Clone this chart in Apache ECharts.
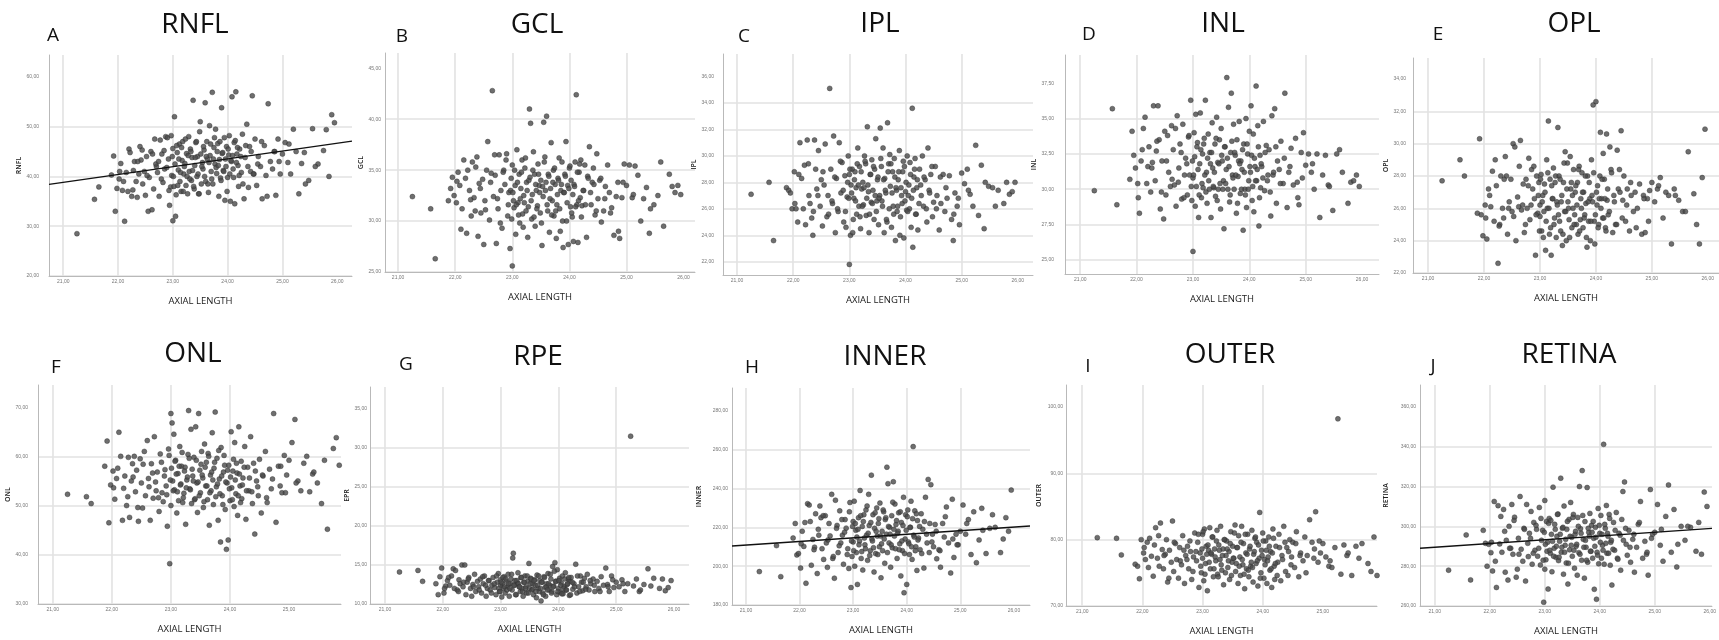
<!DOCTYPE html>
<html>
<head>
<meta charset="utf-8">
<title>Retinal layer thickness vs axial length</title>
<script src="https://cdn.jsdelivr.net/npm/echarts@6/dist/echarts.min.js"></script>
<style>
html, body { margin: 0; padding: 0; background: #fff; }
#chart { width: 1719px; height: 640px; }
</style>
</head>
<body>
<div id="chart"></div>
<script>
// axial length (mm) - same subjects in all ten panels
const axialLength = [
  21.25, 21.57, 21.65, 21.88, 21.92, 21.95, 21.98, 22.02, 22.05, 22.08,
  22.12, 22.15, 22.18, 22.20, 22.22, 22.25, 22.28, 22.30, 22.33, 22.35,
  22.38, 22.40, 22.42, 22.45, 22.48, 22.50, 22.52, 22.55, 22.57, 22.60,
  22.62, 22.65, 22.67, 22.70, 22.72, 22.75, 22.77, 22.80, 22.82, 22.85,
  22.87, 22.90, 22.92, 22.94, 22.96, 22.98, 23.00, 23.00, 23.02, 23.03,
  23.05, 23.06, 23.08, 23.10, 23.12, 23.13, 23.15, 23.17, 23.18, 23.20,
  23.22, 23.24, 23.25, 23.27, 23.29, 23.30, 23.32, 23.34, 23.35, 23.37,
  23.39, 23.40, 23.42, 23.44, 23.45, 23.47, 23.49, 23.50, 23.52, 23.54,
  23.55, 23.57, 23.59, 23.60, 23.62, 23.63, 23.65, 23.67, 23.68, 23.70,
  23.72, 23.73, 23.75, 23.77, 23.78, 23.80, 23.82, 23.84, 23.85, 23.87,
  23.89, 23.90, 23.92, 23.94, 23.95, 23.97, 23.98, 24.00, 24.02, 24.03,
  24.05, 24.07, 24.08, 24.10, 24.12, 24.13, 24.15, 24.17, 24.19, 24.20,
  24.22, 24.25, 24.27, 24.30, 24.32, 24.35, 24.38, 24.40, 24.42, 24.45,
  24.48, 24.50, 24.53, 24.56, 24.60, 24.63, 24.67, 24.70, 24.74, 24.78,
  24.82, 24.85, 24.88, 24.92, 24.96, 25.00, 25.05, 25.10, 25.15, 25.20,
  25.25, 25.30, 25.35, 25.40, 25.48, 25.55, 25.65, 25.75, 25.80, 25.85,
  25.90, 25.95, 22.03, 22.10, 22.27, 22.36, 22.44, 22.53, 22.63, 22.69,
  22.74, 22.79, 22.84, 22.89, 22.93, 22.97, 22.99, 23.01, 23.04, 23.07,
  23.09, 23.11, 23.14, 23.16, 23.19, 23.21, 23.23, 23.26, 23.28, 23.31,
  23.33, 23.36, 23.38, 23.41, 23.43, 23.46, 23.48, 23.51, 23.53, 23.56,
  23.58, 23.61, 23.64, 23.66, 23.69, 23.71, 23.74, 23.76, 23.79, 23.81,
  23.83, 23.86, 23.88, 23.91, 23.93, 23.96, 23.99, 24.01, 24.04, 24.06,
  24.09, 24.11, 24.14, 24.16, 24.18, 24.21, 24.24, 24.28, 24.33, 24.37,
  24.43, 24.47, 24.55, 24.62, 24.72, 24.86, 24.94, 25.12, 25.42, 25.60
];

const rnfl = [
  28.5, 35.4, 37.9, 40.3, 44.1, 33.0, 37.6, 39.5, 42.6, 37.2,
  31.0, 40.8, 37.0, 45.5, 44.8, 36.0, 41.2, 43.0, 39.0, 35.8,
  40.5, 46.0, 43.3, 38.5, 41.0, 36.2, 44.0, 33.0, 39.8, 45.0,
  33.3, 37.5, 47.5, 42.0, 40.8, 36.0, 47.3, 44.5, 38.8, 41.5,
  48.0, 47.8, 43.5, 34.2, 37.9, 40.2, 31.1, 45.6, 38.0, 52.0,
  32.0, 36.3, 44.8, 41.3, 46.5, 39.0, 37.0, 43.2, 47.0, 40.5,
  42.6, 38.2, 44.6, 36.5, 48.0, 41.0, 45.5, 39.2, 43.8, 55.3,
  37.5, 42.2, 46.8, 40.0, 44.0, 36.5, 49.0, 51.0, 38.5, 42.8,
  41.5, 45.3, 54.8, 39.0, 47.0, 43.5, 36.8, 50.2, 44.2, 41.0,
  56.9, 38.5, 45.8, 42.5, 49.5, 40.6, 46.6, 36.0, 43.4, 39.7,
  53.8, 44.6, 41.2, 47.8, 35.2, 42.0, 46.0, 39.8, 44.3, 48.2,
  35.0, 43.0, 56.0, 41.5, 46.8, 34.5, 57.0, 44.5, 42.2, 38.0,
  45.5, 40.8, 48.5, 35.5, 43.8, 50.5, 37.8, 46.0, 41.0, 56.2,
  40.5, 47.5, 38.2, 44.0, 42.0, 35.5, 46.2, 40.2, 54.6, 43.0,
  41.5, 45.0, 36.2, 47.5, 40.5, 44.5, 46.8, 42.8, 40.5, 49.5,
  45.0, 36.5, 42.6, 44.8, 39.2, 49.6, 42.5, 45.2, 49.4, 40.0,
  52.4, 50.8, 41.0, 39.0, 37.3, 43.0, 45.3, 40.2, 44.5, 42.5,
  43.0, 39.5, 45.2, 41.8, 37.2, 48.2, 44.0, 40.0, 42.5, 46.2,
  38.2, 43.5, 40.8, 45.8, 37.0, 42.0, 47.5, 40.0, 44.2, 39.5,
  45.0, 41.2, 38.0, 43.8, 47.0, 40.5, 36.5, 44.5, 42.0, 46.0,
  40.0, 44.0, 38.5, 42.8, 46.5, 39.5, 43.5, 47.8, 41.8, 45.0,
  42.2, 47.0, 39.2, 44.8, 41.0, 43.5, 37.0, 45.5, 40.5, 43.2,
  44.2, 39.8, 47.2, 42.8, 45.8, 40.2, 44.0, 38.5, 46.2, 42.0,
  45.0, 40.5, 42.5, 47.0, 36.0, 45.0, 43.0, 46.5, 38.5, 42.0
];

const gcl = [
  32.4, 31.2, 26.3, 32.0, 33.2, 34.3, 32.5, 31.8, 34.8, 33.5,
  31.2, 36.0, 34.2, 28.8, 35.0, 33.0, 30.5, 35.8, 32.3, 31.0,
  36.3, 28.5, 33.7, 30.8, 34.1, 27.7, 32.0, 35.0, 37.8, 30.1,
  33.8, 42.8, 32.4, 34.5, 27.8, 31.2, 36.5, 33.0, 29.3, 35.0,
  33.6, 36.6, 30.5, 32.8, 27.3, 34.2, 25.6, 35.5, 32.0, 31.3,
  33.5, 28.7, 37.0, 31.8, 34.6, 29.8, 33.2, 36.0, 30.7, 32.5,
  35.2, 31.0, 33.8, 28.4, 34.0, 41.0, 39.6, 30.2, 32.6, 36.8,
  34.6, 29.5, 33.0, 31.5, 35.6, 33.5, 30.8, 34.0, 27.6, 32.4,
  39.7, 36.3, 33.8, 40.3, 31.0, 34.6, 28.9, 33.2, 37.7, 32.0,
  35.0, 30.5, 33.6, 28.3, 31.6, 34.2, 36.2, 29.0, 33.0, 35.8,
  27.4, 32.8, 34.6, 37.8, 30.0, 33.5, 27.7, 35.2, 31.4, 34.0,
  30.4, 28.0, 33.6, 35.8, 42.4, 31.6, 27.9, 34.8, 32.3, 36.0,
  31.5, 33.0, 35.5, 28.4, 34.4, 37.3, 31.6, 33.8, 35.2, 30.6,
  36.6, 32.2, 34.0, 29.9, 31.0, 33.4, 35.5, 32.8, 31.3, 28.6,
  32.4, 33.8, 28.3, 32.3, 35.6, 33.5, 35.5, 32.3, 35.4, 34.5,
  30.0, 32.2, 33.3, 28.8, 31.6, 32.5, 29.5, 34.6, 33.4, 32.8,
  33.5, 32.6, 33.9, 29.2, 32.1, 35.3, 33.2, 31.1, 34.7, 36.5,
  32.2, 29.8, 34.8, 36.0, 31.6, 33.0, 30.2, 32.8, 35.0, 31.6,
  33.8, 30.6, 32.2, 34.8, 29.4, 31.8, 36.2, 33.0, 31.4, 34.3,
  32.0, 35.0, 30.4, 33.6, 31.2, 34.6, 32.8, 29.8, 33.4, 35.8,
  33.0, 31.6, 34.4, 32.2, 30.6, 33.8, 35.2, 31.0, 32.6, 34.0,
  31.2, 33.6, 30.0, 32.8, 34.4, 31.8, 33.2, 35.4, 30.8, 32.6,
  33.4, 31.4, 34.8, 32.0, 35.6, 30.4, 33.0, 31.6, 34.2, 32.8,
  33.6, 31.0, 34.2, 32.2, 30.8, 29.0, 33.8, 32.6, 31.2, 35.8
];

const ipl = [
  27.1, 28.0, 23.6, 27.6, 27.4, 27.2, 26.0, 28.8, 26.0, 25.0,
  31.0, 28.3, 26.0, 29.3, 24.8, 31.2, 27.0, 26.4, 25.3, 24.0,
  31.2, 29.0, 27.5, 30.4, 26.2, 28.2, 24.7, 27.8, 30.9, 25.4,
  27.0, 35.1, 29.0, 26.4, 31.5, 24.2, 28.3, 25.8, 31.0, 27.2,
  29.5, 25.0, 28.5, 24.6, 26.9, 30.0, 21.8, 28.6, 24.0, 27.8,
  29.0, 24.2, 26.8, 28.8, 27.6, 25.6, 30.6, 26.2, 29.2, 24.5,
  27.5, 28.0, 26.3, 30.0, 29.4, 25.5, 32.2, 27.3, 24.2, 28.6,
  26.5, 29.7, 27.4, 25.2, 29.0, 31.3, 26.6, 28.2, 24.8, 27.0,
  32.1, 29.2, 26.2, 30.6, 24.2, 28.3, 27.2, 25.0, 32.5, 29.4,
  30.1, 27.7, 24.6, 28.8, 26.2, 29.8, 23.6, 27.4, 25.8, 28.2,
  30.4, 24.0, 27.6, 26.4, 28.8, 23.8, 29.2, 27.3, 25.9, 30.0,
  27.0, 26.0, 29.5, 24.6, 33.6, 23.1, 28.4, 29.8, 25.6, 27.6,
  24.4, 29.0, 27.8, 30.0, 26.2, 28.2, 25.0, 30.6, 27.4, 28.6,
  25.4, 26.5, 29.2, 27.0, 24.4, 26.4, 28.6, 25.8, 26.8, 28.5,
  25.2, 23.6, 27.2, 26.2, 24.8, 28.7, 27.9, 29.0, 27.1, 26.2,
  30.8, 25.5, 29.3, 24.5, 27.7, 27.6, 27.4, 26.4, 28.0, 27.1,
  27.3, 28.0, 26.4, 28.6, 29.4, 25.8, 27.0, 28.8, 25.6, 26.6,
  28.4, 26.0, 29.6, 27.4, 25.8, 28.0, 26.8, 29.0, 27.2, 25.2,
  28.2, 26.6, 29.4, 27.8, 25.4, 28.8, 26.2, 27.6, 29.6, 26.8,
  27.8, 25.6, 28.6, 26.4, 29.2, 27.0, 25.8, 28.4, 26.8, 29.8,
  26.6, 28.2, 27.4, 25.2, 28.8, 26.0, 29.4, 27.2, 25.6, 28.4,
  27.6, 26.2, 28.8, 25.4, 27.0, 29.6, 26.6, 28.0, 25.8, 27.8,
  28.6, 26.8, 27.4, 29.0, 25.6, 28.2, 26.4, 27.0, 28.4, 26.0,
  27.2, 29.2, 26.0, 28.4, 27.6, 25.6, 26.8, 27.4, 28.0, 26.2
];

const inl = [
  29.9, 35.7, 28.9, 30.7, 34.1, 32.4, 31.5, 30.4, 28.3, 32.0,
  34.3, 35.1, 30.4, 31.6, 33.0, 29.8, 31.9, 35.9, 30.6, 32.7,
  35.9, 33.5, 28.6, 32.0, 27.9, 34.1, 29.6, 33.8, 31.2, 30.2,
  34.5, 32.8, 30.3, 28.8, 35.2, 31.5, 33.2, 29.3, 34.6, 31.0,
  32.2, 29.6, 33.7, 31.0, 36.3, 29.2, 25.6, 30.8, 34.0, 32.3,
  35.3, 30.2, 33.3, 28.0, 31.8, 35.4, 29.4, 32.5, 30.1, 33.6,
  36.3, 31.2, 29.0, 33.9, 30.0, 32.6, 28.0, 34.7, 31.5, 30.1,
  33.2, 29.5, 35.1, 31.9, 30.0, 33.5, 28.6, 34.3, 32.0, 30.6,
  27.2, 33.0, 31.4, 37.9, 30.0, 35.8, 29.1, 32.6, 36.8, 31.0,
  34.6, 30.0, 32.4, 28.3, 33.5, 30.9, 34.8, 29.7, 32.0, 31.4,
  27.1, 33.2, 30.0, 35.0, 28.7, 32.5, 30.0, 34.1, 31.2, 35.9,
  29.2, 33.9, 28.4, 31.6, 37.3, 30.6, 34.5, 27.4, 32.4, 30.1,
  31.6, 34.8, 29.9, 33.1, 30.6, 32.8, 28.1, 35.2, 31.0, 35.7,
  29.0, 32.0, 31.4, 33.4, 30.4, 36.8, 28.7, 31.2, 32.9, 30.3,
  33.6, 30.5, 28.9, 32.6, 34.0, 31.7, 32.5, 31.2, 30.0, 32.5,
  28.0, 31.0, 32.4, 30.3, 28.5, 32.5, 31.2, 29.0, 30.5, 30.6,
  31.0, 30.2, 29.4, 32.8, 31.5, 33.4, 29.8, 32.0, 30.7, 34.3,
  30.5, 32.6, 29.4, 31.8, 33.8, 30.2, 32.0, 31.0, 28.8, 33.0,
  31.4, 29.6, 32.8, 30.4, 33.2, 31.0, 29.8, 32.2, 30.6, 31.8,
  32.6, 30.2, 31.2, 33.6, 29.2, 31.8, 30.4, 32.4, 30.0, 33.0,
  30.4, 32.2, 31.6, 29.6, 33.4, 30.8, 32.6, 31.0, 29.0, 32.0,
  31.8, 30.0, 32.8, 31.2, 29.6, 33.2, 30.6, 31.6, 32.4, 30.2,
  32.2, 30.6, 31.4, 33.0, 29.4, 31.8, 30.8, 32.6, 31.0, 29.8,
  31.2, 33.0, 30.4, 32.2, 31.6, 29.4, 30.8, 31.8, 30.2, 32.8
];

const opl = [
  27.7, 29.0, 28.0, 25.7, 30.3, 25.6, 24.3, 26.2, 24.1, 27.2,
  26.1, 28.3, 25.2, 29.0, 27.4, 22.6, 25.0, 28.0, 26.0, 25.4,
  29.2, 28.0, 24.4, 26.4, 27.8, 25.8, 30.0, 29.8, 24.0, 26.7,
  26.1, 30.2, 25.9, 27.5, 24.5, 27.8, 26.0, 29.1, 25.3, 28.4,
  27.2, 26.6, 23.1, 28.0, 25.7, 27.6, 26.2, 25.5, 28.1, 24.6,
  26.8, 24.2, 27.5, 23.4, 29.0, 26.0, 31.4, 24.4, 27.8, 23.1,
  26.6, 28.5, 25.0, 27.6, 24.2, 26.4, 31.0, 28.0, 25.2, 24.6,
  26.8, 23.7, 27.6, 25.8, 29.5, 24.0, 28.8, 26.4, 25.3, 29.2,
  27.2, 24.8, 26.0, 28.4, 25.6, 27.0, 25.0, 27.6, 24.4, 28.6,
  25.3, 26.6, 28.2, 24.8, 27.0, 25.6, 26.3, 23.6, 28.0, 25.2,
  26.6, 24.0, 29.0, 26.4, 32.4, 25.2, 23.8, 32.6, 26.2, 27.4,
  25.0, 28.0, 30.7, 26.6, 25.4, 29.4, 27.8, 24.8, 30.6, 26.5,
  25.6, 29.8, 28.4, 24.5, 26.8, 25.0, 29.6, 27.2, 28.4, 30.8,
  26.5, 28.0, 25.2, 27.2, 24.6, 26.8, 25.8, 27.0, 26.0, 27.5,
  24.4, 26.8, 24.5, 26.6, 27.1, 27.6, 26.4, 27.2, 27.9, 25.4,
  27.0, 26.8, 23.8, 27.2, 26.5, 25.8, 29.5, 26.9, 25.0, 23.8,
  27.9, 30.9, 25.4, 26.8, 24.9, 27.8, 26.0, 25.5, 28.6, 26.2,
  25.0, 27.4, 26.2, 28.6, 25.6, 26.8, 24.6, 27.8, 26.4, 25.8,
  27.0, 25.2, 28.2, 26.0, 24.8, 27.4, 26.6, 25.4, 28.0, 26.2,
  25.6, 27.8, 26.4, 24.4, 28.8, 25.8, 27.2, 26.0, 24.2, 27.6,
  26.8, 25.0, 27.4, 26.2, 28.4, 24.6, 26.0, 27.0, 25.4, 28.0,
  24.2, 26.4, 27.6, 25.2, 26.8, 28.2, 25.6, 27.0, 24.8, 26.6,
  26.0, 27.8, 25.4, 26.6, 24.6, 27.2, 25.8, 28.2, 26.4, 25.0,
  27.0, 25.4, 26.2, 27.6, 24.8, 26.6, 25.2, 27.4, 26.8, 25.8
];

const onl = [
  52.3, 51.8, 50.4, 58.0, 63.1, 46.5, 54.2, 57.0, 51.3, 55.5,
  64.9, 60.0, 47.0, 53.5, 56.0, 50.0, 59.8, 47.6, 55.0, 58.5,
  60.0, 52.8, 57.2, 46.8, 59.5, 54.6, 49.5, 61.0, 52.0, 63.2,
  55.5, 47.0, 58.5, 51.5, 64.0, 53.0, 56.8, 48.8, 60.5, 52.6,
  50.8, 57.3, 54.0, 45.8, 61.5, 38.2, 68.7, 50.0, 66.8, 55.0,
  64.5, 53.2, 59.2, 48.5, 56.5, 51.0, 62.0, 54.4, 58.0, 50.6,
  52.5, 57.8, 46.2, 55.2, 60.4, 69.3, 53.4, 65.5, 50.4, 56.0,
  59.8, 51.2, 66.0, 54.6, 48.6, 68.7, 57.2, 52.6, 61.0, 55.6,
  49.6, 62.5, 54.0, 58.8, 51.2, 60.6, 46.0, 56.2, 53.0, 64.8,
  50.2, 57.6, 69.0, 53.8, 59.6, 47.0, 55.4, 42.6, 61.8, 52.0,
  56.8, 60.2, 49.2, 41.1, 54.6, 43.0, 58.2, 51.0, 65.0, 53.6,
  57.0, 49.8, 62.8, 52.4, 56.6, 48.0, 66.0, 54.0, 59.0, 51.4,
  55.6, 62.0, 47.2, 57.8, 53.0, 64.0, 50.4, 58.6, 44.2, 55.0,
  52.0, 59.4, 48.5, 56.0, 61.0, 50.6, 57.4, 53.4, 68.7, 46.6,
  58.0, 54.0, 52.6, 60.2, 56.2, 59.2, 62.8, 67.5, 55.0, 53.0,
  58.6, 60.0, 52.8, 56.4, 54.6, 50.4, 45.2, 61.6, 63.8, 58.2,
  60.8, 64.0, 53.6, 57.6, 51.8, 55.8, 49.6, 58.4, 53.8, 56.6,
  54.8, 51.6, 58.8, 56.0, 52.2, 60.2, 55.2, 57.6, 53.0, 59.0,
  56.4, 52.8, 58.0, 54.2, 60.8, 51.6, 57.0, 53.6, 55.8, 59.6,
  53.2, 57.4, 55.0, 51.4, 59.2, 54.8, 52.0, 58.4, 56.2, 50.8,
  57.8, 54.0, 60.0, 52.6, 56.8, 55.2, 58.8, 51.8, 54.4, 61.2,
  52.4, 56.0, 50.2, 58.2, 54.8, 57.2, 53.4, 55.8, 51.2, 59.4,
  55.2, 58.6, 52.0, 56.4, 50.6, 54.2, 57.8, 53.0, 55.6, 52.8,
  57.0, 53.8, 56.2, 51.6, 55.4, 58.0, 52.6, 54.6, 56.8, 59.2
];

const rpe = [
  14.1, 14.3, 12.9, 12.6, 11.2, 13.5, 14.6, 11.4, 12.3, 13.0,
  12.4, 13.6, 14.5, 12.0, 14.3, 11.8, 13.1, 12.6, 15.0, 12.2,
  15.0, 11.2, 12.8, 13.4, 12.0, 11.0, 12.5, 13.8, 11.6, 12.9,
  12.2, 13.2, 11.4, 12.6, 13.6, 11.0, 12.0, 13.0, 11.8, 12.4,
  13.4, 12.1, 11.2, 12.8, 13.9, 11.6, 12.4, 13.1, 10.9, 12.6,
  12.0, 13.5, 11.4, 12.9, 12.2, 13.8, 11.0, 12.6, 13.2, 11.8,
  16.5, 12.4, 13.0, 11.2, 12.7, 14.0, 12.2, 11.6, 13.4, 12.0,
  11.0, 12.8, 13.6, 12.2, 11.4, 12.9, 15.2, 12.0, 13.3, 11.8,
  12.6, 11.2, 13.1, 12.4, 10.8, 13.7, 12.0, 11.6, 13.0, 10.4,
  12.8, 11.4, 13.5, 12.1, 11.0, 12.6, 13.9, 11.8, 12.4, 13.2,
  11.6, 14.8, 12.3, 15.3, 12.9, 11.2, 14.4, 12.0, 13.3, 11.5,
  12.7, 13.6, 11.3, 12.2, 14.0, 11.8, 12.5, 13.2, 11.1, 12.9,
  13.4, 11.9, 12.6, 15.1, 11.4, 12.2, 13.6, 12.8, 11.7, 13.3,
  12.2, 13.8, 11.8, 12.6, 13.2, 11.6, 12.9, 12.0, 13.5, 12.4,
  14.6, 12.5, 11.6, 13.6, 12.1, 12.8, 12.2, 13.1, 11.6, 12.6,
  31.5, 12.3, 13.2, 11.6, 12.5, 14.5, 13.3, 12.0, 13.2, 11.7,
  12.1, 13.0, 12.0, 13.4, 11.6, 12.8, 13.2, 12.2, 11.8, 13.5,
  12.4, 13.0, 11.4, 12.6, 13.6, 12.0, 11.6, 12.8, 13.4, 12.2,
  13.2, 11.8, 12.6, 12.0, 13.8, 15.9, 12.4, 11.2, 13.0, 12.6,
  12.2, 13.4, 11.6, 12.8, 12.0, 13.6, 11.4, 12.6, 13.2, 11.9,
  13.0, 11.6, 12.4, 13.6, 12.0, 12.8, 11.2, 13.4, 12.2, 11.8,
  12.6, 13.8, 11.4, 12.2, 14.2, 12.9, 11.6, 13.0, 12.4, 11.3,
  12.0, 13.2, 11.8, 12.6, 13.4, 11.2, 12.8, 12.2, 13.6, 11.6,
  12.8, 11.9, 13.0, 12.4, 11.6, 12.2, 13.1, 12.6, 11.8, 12.3
];

const inner = [
  197.2, 210.6, 194.6, 214.5, 222.0, 205.8, 206.5, 199.0, 218.0, 210.2,
  191.2, 232.2, 231.5, 223.0, 200.5, 213.8, 209.8, 227.0, 196.2, 219.0,
  231.0, 225.0, 209.0, 203.5, 226.0, 212.0, 199.4, 222.0, 215.6, 237.0,
  204.0, 193.8, 234.0, 221.0, 207.0, 228.5, 212.0, 216.0, 201.0, 224.0,
  219.6, 209.0, 198.8, 232.8, 189.0, 205.0, 223.0, 212.5, 233.5, 200.0,
  218.5, 207.0, 190.6, 225.0, 213.0, 239.0, 204.0, 220.5, 198.0, 226.5,
  211.0, 229.0, 216.0, 203.0, 237.0, 221.0, 208.0, 246.9, 214.0, 226.5,
  197.0, 219.5, 206.5, 230.0, 215.5, 222.0, 210.0, 232.5, 194.0, 218.0,
  208.0, 228.0, 201.5, 224.0, 216.5, 251.0, 242.5, 212.0, 220.0, 199.5,
  226.0, 209.5, 243.5, 215.5, 232.0, 221.5, 204.0, 218.0, 227.5, 211.5,
  195.0, 222.5, 208.0, 235.5, 186.3, 214.0, 226.5, 190.6, 229.0, 212.5,
  206.0, 220.0, 233.5, 203.5, 261.6, 216.0, 228.5, 210.0, 197.8, 223.5,
  214.5, 208.5, 227.0, 219.0, 199.0, 235.5, 212.0, 244.7, 207.0, 242.0,
  216.5, 210.0, 221.5, 203.8, 208.5, 199.5, 222.0, 215.0, 230.5, 212.0,
  196.5, 234.5, 204.5, 216.5, 211.0, 218.0, 231.5, 216.5, 224.0, 206.0,
  228.0, 201.8, 213.5, 229.8, 206.5, 219.5, 220.0, 207.0, 214.0, 225.0,
  218.0, 239.2, 211.5, 222.5, 208.5, 216.0, 226.0, 213.5, 205.0, 219.5,
  210.5, 224.0, 217.5, 206.0, 228.0, 213.0, 220.5, 208.0, 222.0, 215.0,
  219.0, 211.0, 226.0, 207.5, 223.0, 214.5, 209.0, 231.0, 217.0, 205.5,
  222.5, 213.0, 209.5, 227.5, 218.0, 206.0, 224.5, 215.5, 211.5, 229.0,
  214.0, 225.0, 207.0, 220.5, 216.5, 211.0, 233.0, 219.0, 209.0, 223.5,
  217.0, 208.5, 228.0, 213.0, 221.0, 206.5, 218.5, 225.5, 211.5, 220.0,
  210.0, 224.5, 215.0, 208.0, 227.0, 213.5, 220.5, 206.5, 223.0, 216.5,
  222.0, 212.5, 218.0, 208.0, 225.5, 214.0, 211.0, 222.0, 218.5, 226.5
];

const outer = [
  80.3, 80.2, 77.7, 76.3, 76.0, 74.1, 80.0, 78.0, 77.0, 79.6,
  80.2, 77.5, 74.5, 79.2, 81.8, 77.2, 76.0, 82.5, 78.5, 75.6,
  77.8, 80.0, 73.6, 78.4, 76.6, 82.8, 75.2, 79.4, 77.0, 74.2,
  78.8, 76.2, 80.6, 73.4, 77.6, 79.0, 75.6, 78.2, 74.0, 77.4,
  81.0, 76.8, 79.6, 72.8, 78.0, 75.0, 80.8, 77.2, 73.8, 81.6,
  76.4, 79.0, 72.3, 78.4, 81.8, 75.6, 77.8, 80.4, 74.4, 78.6,
  76.8, 81.4, 74.8, 79.2, 77.0, 82.0, 75.4, 78.6, 73.2, 80.0,
  77.6, 79.8, 75.8, 78.2, 74.0, 81.2, 76.6, 79.0, 77.2, 82.2,
  75.2, 78.8, 73.4, 80.6, 77.4, 74.6, 82.0, 76.2, 79.4, 72.6,
  78.0, 75.6, 80.8, 74.4, 78.6, 76.0, 81.4, 73.6, 77.8, 80.2,
  76.4, 79.6, 73.0, 77.2, 84.1, 75.0, 78.4, 81.0, 74.2, 77.0,
  79.8, 73.4, 76.8, 80.4, 75.4, 78.2, 72.8, 81.6, 76.0, 74.0,
  79.0, 76.6, 80.8, 73.8, 77.6, 82.0, 75.2, 78.8, 74.6, 80.0,
  77.4, 79.6, 75.8, 81.2, 74.4, 78.0, 76.8, 80.4, 77.6, 83.0,
  79.6, 77.2, 84.2, 76.6, 78.0, 79.4, 77.4, 76.0, 75.8, 78.8,
  98.2, 74.8, 79.2, 77.6, 74.6, 79.0, 79.4, 76.4, 75.2, 80.4,
  74.6, 76.8, 78.8, 75.8, 80.6, 77.6, 74.2, 79.6, 76.8, 78.4,
  77.0, 79.8, 75.2, 78.2, 80.8, 76.0, 78.6, 81.2, 74.8, 77.8,
  79.2, 76.6, 78.0, 80.4, 75.6, 77.4, 79.8, 74.4, 78.4, 76.2,
  77.6, 80.0, 75.0, 78.6, 76.8, 79.4, 74.6, 77.2, 81.0, 76.4,
  78.8, 76.0, 79.6, 77.0, 74.8, 80.8, 77.8, 75.4, 79.0, 76.6,
  75.8, 78.2, 80.4, 76.8, 79.2, 74.2, 77.6, 79.8, 76.2, 78.4,
  77.4, 79.0, 75.6, 78.0, 80.2, 76.4, 74.6, 78.8, 77.0, 79.6,
  78.2, 76.2, 79.4, 77.6, 75.0, 78.6, 79.8, 76.8, 78.0, 77.2
];

const retina = [
  278.0, 295.7, 273.1, 298.0, 291.5, 280.0, 291.0, 286.8, 277.6, 312.5,
  269.3, 310.4, 291.2, 305.0, 287.0, 308.5, 277.0, 293.0, 273.0, 300.0,
  289.0, 311.0, 286.0, 304.6, 274.5, 278.5, 294.0, 315.0, 288.5, 282.5,
  299.0, 272.5, 311.0, 284.8, 296.5, 307.5, 281.0, 302.0, 288.0, 298.5,
  285.0, 309.5, 280.6, 293.0, 298.0, 261.9, 278.5, 313.0, 283.2, 302.5,
  292.0, 268.5, 304.0, 286.5, 296.0, 277.2, 319.7, 289.0, 301.0, 284.5,
  295.0, 306.2, 282.8, 292.5, 324.2, 287.0, 299.0, 276.0, 310.2, 290.5,
  281.6, 298.5, 271.0, 303.5, 288.2, 312.0, 294.5, 285.0, 306.0, 279.0,
  296.0, 290.0, 275.5, 304.5, 286.8, 320.0, 298.8, 283.0, 328.0, 293.5,
  274.0, 302.4, 289.5, 319.5, 282.0, 297.0, 306.5, 287.5, 300.5, 284.0,
  294.0, 268.4, 299.5, 263.4, 287.0, 309.0, 281.2, 296.5, 305.5, 284.0,
  290.5, 341.2, 281.0, 299.0, 310.5, 286.5, 295.0, 306.0, 280.5, 292.0,
  270.5, 302.0, 288.0, 307.0, 284.0, 296.5, 278.0, 303.5, 317.5, 322.3,
  291.0, 285.5, 298.0, 282.0, 293.5, 277.0, 289.5, 301.0, 312.5, 284.0,
  292.5, 286.0, 275.5, 318.5, 296.0, 297.0, 311.0, 290.5, 282.5, 305.0,
  320.8, 287.0, 308.5, 279.6, 300.0, 293.0, 299.5, 287.5, 302.0, 286.0,
  317.2, 310.0, 292.0, 282.5, 297.5, 289.0, 303.0, 286.0, 298.5, 291.5,
  294.0, 286.5, 300.5, 289.0, 304.0, 283.0, 297.0, 291.0, 287.5, 301.5,
  288.0, 303.0, 292.5, 285.0, 298.5, 290.0, 306.0, 284.5, 296.0, 289.5,
  299.5, 287.0, 293.5, 302.5, 281.5, 295.0, 290.5, 304.5, 288.0, 297.5,
  291.0, 300.0, 286.0, 296.5, 305.5, 289.5, 293.0, 283.0, 299.0, 295.0,
  287.5, 297.0, 302.5, 290.0, 294.5, 285.5, 300.5, 292.0, 296.0, 288.0,
  301.0, 291.5, 296.5, 286.5, 304.0, 293.0, 288.5, 298.0, 283.5, 295.5,
  293.0, 299.0, 289.5, 296.0, 302.0, 287.0, 294.0, 298.5, 291.0, 300.0
];

// fitted regression lines [intercept, slope]
const rnflFit = [5.78, 1.573];
const innerFit = [171.97, 1.853];
const retinaFit = [249.97, 1.883];

// tick labels
const xTicks = [21, 22, 23, 24, 25, 26];
const rnflTicks = [20, 30, 40, 50, 60];
const gclTicks = [25, 30, 35, 40, 45];
const iplTicks = [22, 24, 26, 28, 30, 32, 34, 36];
const inlTicks = [25, 27.5, 30, 32.5, 35, 37.5];
const oplTicks = [22, 24, 26, 28, 30, 32, 34];
const onlTicks = [30, 40, 50, 60, 70];
const rpeTicks = [10, 15, 20, 25, 30, 35];
const innerTicks = [180, 200, 220, 240, 260, 280];
const outerTicks = [70, 80, 90, 100];
const retinaTicks = [260, 280, 300, 320, 340, 360];

const panels = [
  { title: 'RNFL', letter: 'A', yName: 'RNFL', values: rnfl, ticks: rnflTicks, fit: rnflFit },
  { title: 'GCL', letter: 'B', yName: 'GCL', values: gcl, ticks: gclTicks },
  { title: 'IPL', letter: 'C', yName: 'IPL', values: ipl, ticks: iplTicks },
  { title: 'INL', letter: 'D', yName: 'INL', values: inl, ticks: inlTicks },
  { title: 'OPL', letter: 'E', yName: 'OPL', values: opl, ticks: oplTicks },
  { title: 'ONL', letter: 'F', yName: 'ONL', values: onl, ticks: onlTicks },
  { title: 'RPE', letter: 'G', yName: 'EPR', values: rpe, ticks: rpeTicks },
  { title: 'INNER', letter: 'H', yName: 'INNER', values: inner, ticks: innerTicks, fit: innerFit },
  { title: 'OUTER', letter: 'I', yName: 'OUTER', values: outer, ticks: outerTicks },
  { title: 'RETINA', letter: 'J', yName: 'RETINA', values: retina, ticks: retinaTicks, fit: retinaFit }
];

// plot boxes [left, top, width, height], axis ranges, label margin, name gap, title / letter centres
const layout = [
  { box: [49, 55, 303, 221], x: [20.74, 26.27], y: [20, 64.4], lm: 10, ng: 25, t: [195, 25], l: [53, 36] },
  { box: [385, 53, 310, 219], x: [20.77, 26.2], y: [25, 46.5], lm: 4, ng: 19, t: [537, 25], l: [402, 37] },
  { box: [723, 54, 310, 221], x: [20.75, 26.27], y: [21, 37.7], lm: 9, ng: 17, t: [880, 24], l: [744, 37] },
  { box: [1065, 55, 314, 219], x: [20.73, 26.3], y: [24, 39.5], lm: 11, ng: 17, t: [1223, 24], l: [1089, 35] },
  { box: [1413, 58, 306, 215], x: [20.73, 26.2], y: [22, 35.3], lm: 7, ng: 19, t: [1574, 24], l: [1438, 35] },
  { box: [38, 385, 303, 219], x: [20.75, 25.88], y: [30, 74.5], lm: 10, ng: 21, t: [193, 354], l: [56, 368] },
  { box: [370, 387, 319, 217], x: [20.74, 26.26], y: [10, 37.8], lm: 3, ng: 18, t: [538, 357], l: [406, 365] },
  { box: [732, 388, 298, 217], x: [20.74, 26.3], y: [180, 291.8], lm: 4, ng: 30, t: [885, 357], l: [752, 368] },
  { box: [1066, 385, 311, 221], x: [20.73, 25.9], y: [70, 103.3], lm: 3, ng: 24, t: [1230, 355], l: [1088, 367] },
  { box: [1420, 385, 299, 221], x: [20.73, 26.04], y: [260, 371], lm: 4, ng: 31, t: [1569, 355], l: [1433, 367] }
];

const chart = echarts.init(document.getElementById('chart'));
const fmt = v => v.toFixed(2).replace('.', ',');
const gridLine = { show: true, lineStyle: { color: '#e2e2e2', width: 1.6 }, showMaxLine: false };
const axisLine = { show: true, onZero: false, lineStyle: { color: '#b9b9b9', width: 1 } };

const grid = [], xAxis = [], yAxis = [], series = [], graphic = [];
panels.forEach((p, i) => {
  const L = layout[i];
  grid.push({ left: L.box[0], top: L.box[1], width: L.box[2], height: L.box[3] });
  xAxis.push({
    type: 'value', gridIndex: i, min: L.x[0], max: L.x[1],
    name: 'AXIAL LENGTH', nameLocation: 'middle', nameGap: 20,
    nameTextStyle: { fontSize: 9.5, color: '#222', fontFamily: 'Open Sans' },
    axisLine: axisLine,
    axisTick: { show: false, customValues: xTicks },
    axisLabel: { customValues: xTicks, formatter: fmt, fontSize: 5, color: '#777', margin: 3 },
    splitLine: gridLine
  });
  yAxis.push({
    type: 'value', gridIndex: i, min: L.y[0], max: L.y[1],
    name: p.yName, nameLocation: 'middle', nameRotate: 90, nameGap: L.ng,
    nameTextStyle: { fontSize: 7, color: '#222', fontFamily: 'Open Sans', fontWeight: 600 },
    axisLine: axisLine,
    axisTick: { show: false, customValues: p.ticks },
    axisLabel: { customValues: p.ticks, formatter: fmt, fontSize: 5, color: '#777', margin: L.lm },
    splitLine: gridLine
  });
  series.push({
    type: 'scatter', xAxisIndex: i, yAxisIndex: i, clip: true, silent: true,
    data: axialLength.map((x, k) => [x, p.values[k]]),
    symbolSize: 5,
    itemStyle: { color: '#4a4a4a', borderColor: '#2c2c2c', borderWidth: 0.5 }
  });
  if (p.fit) {
    series.push({
      type: 'line', xAxisIndex: i, yAxisIndex: i, silent: true, z: 3,
      data: L.x.map(x => [x, p.fit[0] + p.fit[1] * x]),
      symbol: 'none', lineStyle: { color: '#111', width: 1.4 }
    });
  }
  graphic.push({
    type: 'text', x: L.t[0], y: L.t[1], silent: true,
    style: { text: p.title, fontSize: 28, fontFamily: 'Open Sans', fill: '#111', align: 'center', verticalAlign: 'middle' }
  });
  graphic.push({
    type: 'text', x: L.l[0], y: L.l[1], silent: true,
    style: { text: p.letter, fontSize: 19, fontFamily: 'Open Sans', fill: '#111', align: 'center', verticalAlign: 'middle' }
  });
});

chart.setOption({
  backgroundColor: '#fff',
  animation: false,
  grid: grid,
  xAxis: xAxis,
  yAxis: yAxis,
  series: series,
  graphic: graphic
});
window.addEventListener('resize', () => chart.resize());
</script>
</body>
</html>
